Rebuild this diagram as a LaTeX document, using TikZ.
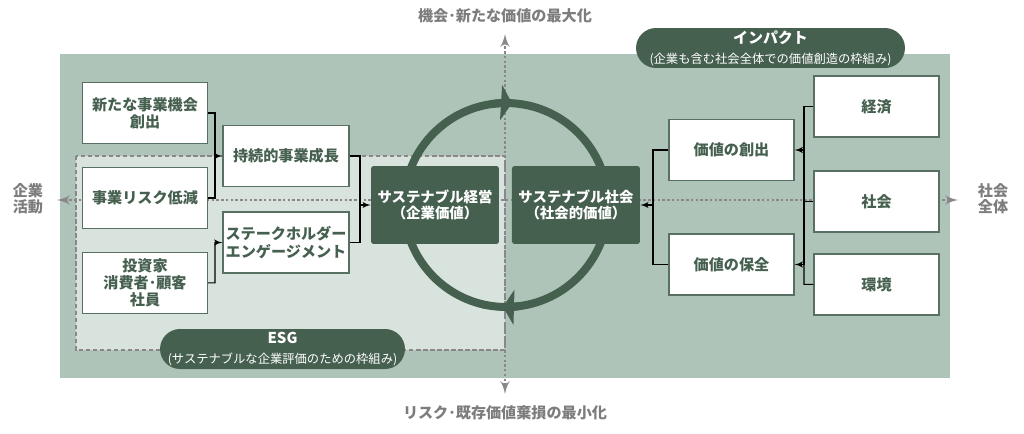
\documentclass[tikz,border=0pt]{standalone}
\usepackage{fontspec}
\setmainfont{Noto Sans CJK JP}
\usepackage{tikz}
\usetikzlibrary{shapes,arrows,arrows.meta}
\definecolor{panelGR}{RGB}{175,196,184}
\definecolor{esgGR}{RGB}{216,227,221}
\definecolor{darkGR}{RGB}{70,96,80}
\definecolor{edgeGR}{RGB}{88,112,98}
\definecolor{axisGY}{RGB}{138,134,138}
\definecolor{labelGY}{RGB}{125,125,125}
\tikzstyle{blockWH} = [rectangle, draw=edgeGR, line width=0.8pt, fill=white, text=darkGR, align=center, minimum width=2.5cm, minimum height=1.22cm, inner sep=0pt, font=\bfseries\fontsize{8.6}{9.8}\selectfont]
\tikzstyle{blockDK} = [rectangle, fill=darkGR, text=white, align=center, minimum width=2.56cm, minimum height=1.56cm, rounded corners=1.5pt, inner sep=0pt, font=\bfseries\fontsize{8.2}{9.2}\selectfont]
\tikzstyle{pillDK} = [rectangle, fill=darkGR, text=white, align=center, minimum height=0.8cm, rounded corners=0.4cm, inner sep=0pt, font=\fontsize{7}{11.3}\selectfont]
\tikzstyle{axislabel} = [text=labelGY, align=center, font=\bfseries\fontsize{8.6}{9}\selectfont]
\tikzstyle{line} = [draw, line width=0.6pt, -latex']
\tikzstyle{joint} = [draw, line width=0.6pt]
\tikzstyle{axis} = [draw=axisGY, line width=1.5pt, dash pattern=on 1.4pt off 1.3pt, latex'-latex']
\tikzstyle{ring} = [draw=darkGR, line width=0.16cm]

\begin{document}
\begin{tikzpicture}[x=0.02cm, y=-0.02cm]
  \useasboundingbox (0,0) rectangle (1024,433);

  % fondos
  \fill [panelGR] (60,54) rectangle (950,378);
  \filldraw [fill=esgGR, draw=axisGY, line width=0.6pt, dash pattern=on 2.5pt off 1.5pt] (76,156) rectangle (505,350);

  % ejes
  \coordinate (ax_top) at (505,34);
  \coordinate (ax_bot) at (505,394);
  \coordinate (ax_lft) at (57,200);
  \coordinate (ax_rgt) at (958,200);
  \path [axis] (ax_top) -- (ax_bot);
  \path [axis] (ax_lft) -- (ax_rgt);

  % ciclo
  \coordinate (ring_c) at (506,205);
  \path [ring] (ring_c) circle [radius=2.04cm];
  \path [ring, -{Triangle[length=0.22cm, width=0.7cm]}] ([shift={(97:2.04cm)}]ring_c) arc [start angle=97, end angle=86.6, radius=2.04cm];
  \path [ring, -{Triangle[length=0.22cm, width=0.7cm]}] ([shift={(278:2.04cm)}]ring_c) arc [start angle=278, end angle=268.3, radius=2.04cm];

  % nodes
  \node [blockWH] (new_biz) at (145,113) {新たな事業機会\\創出};
  \node [blockWH, below of = new_biz, node distance = 1.7cm] (risk_red) {事業リスク低減};
  \node [blockWH, below of = risk_red, node distance = 1.7cm] (stake_hld) {投資家\\消費者･顧客\\社員};
  \node [blockWH, minimum width=2.52cm] (growth) at (286,156) {持続的事業成長};
  \node [blockWH, minimum width=2.52cm, below of = growth, node distance = 1.73cm] (engage) {ステークホルダー\\エンゲージメント};
  \node [blockDK] (sus_mgmt) at (435,205) {サステナブル経営\\（企業価値）};
  \node [blockDK, right of = sus_mgmt, node distance = 2.82cm] (sus_soc) {サステナブル社会\\（社会的価値）};
  \node [blockWH] (val_new) at (731.5,150) {価値の創出};
  \node [blockWH, below of = val_new, node distance = 2.29cm] (val_keep) {価値の保全};
  \node [blockWH] (econ) at (876.5,106.5) {経済};
  \node [blockWH, below of = econ, node distance = 1.9cm] (society) {社会};
  \node [blockWH, below of = society, node distance = 1.66cm] (envir) {環境};

  % edges
  \coordinate (jn_a) at (215,156);
  \coordinate (jn_b) at (215,242.5);
  \coordinate (jn_c) at (360,205);
  \coordinate (jn_d) at (653,205);
  \coordinate (jn_e) at (804,150);
  \coordinate (jn_f) at (804,264.5);
  \path [line] (new_biz.east) -| (jn_a) -- (growth.west);
  \path [joint] (risk_red.east) -| (jn_a);
  \path [line] (stake_hld.east) -| (jn_b) -- (engage.west);
  \path [line] (growth.east) -| (jn_c) -- (sus_mgmt.west);
  \path [joint] (engage.east) -| (jn_c);
  \path [line] (val_new.west) -| (jn_d) -- (sus_soc.east);
  \path [joint] (val_keep.west) -| (jn_d);
  \path [line] (econ.west) -| (jn_e) -- (val_new.east);
  \path [joint] (society.west) -| (jn_e);
  \path [joint] (society.west) -| (jn_f);
  \path [line] (envir.west) -| (jn_f) -- (val_keep.east);

  % etiquetas
  \node [axislabel] (lbl_top) at (505,16) {機会･新たな価値の最大化};
  \node [axislabel] (lbl_bot) at (505,413) {リスク･既存価値棄損の最小化};
  \node [axislabel] (lbl_lft) at (28,199) {企業\\活動};
  \node [axislabel] (lbl_rgt) at (993,199) {社会\\全体};

  \node [pillDK, minimum width=4.9cm] (esg_tag) at (282.5,349) {{\bfseries\fontsize{8.5}{11.3}\selectfont ESG}\\(サステナブルな企業評価のための枠組み)};
  \node [pillDK, minimum width=5.38cm] (imp_tag) at (770.5,48) {{\bfseries\fontsize{8.5}{11.3}\selectfont インパクト}\\(企業も含む社会全体での価値創造の枠組み)};

\end{tikzpicture}
\end{document}
